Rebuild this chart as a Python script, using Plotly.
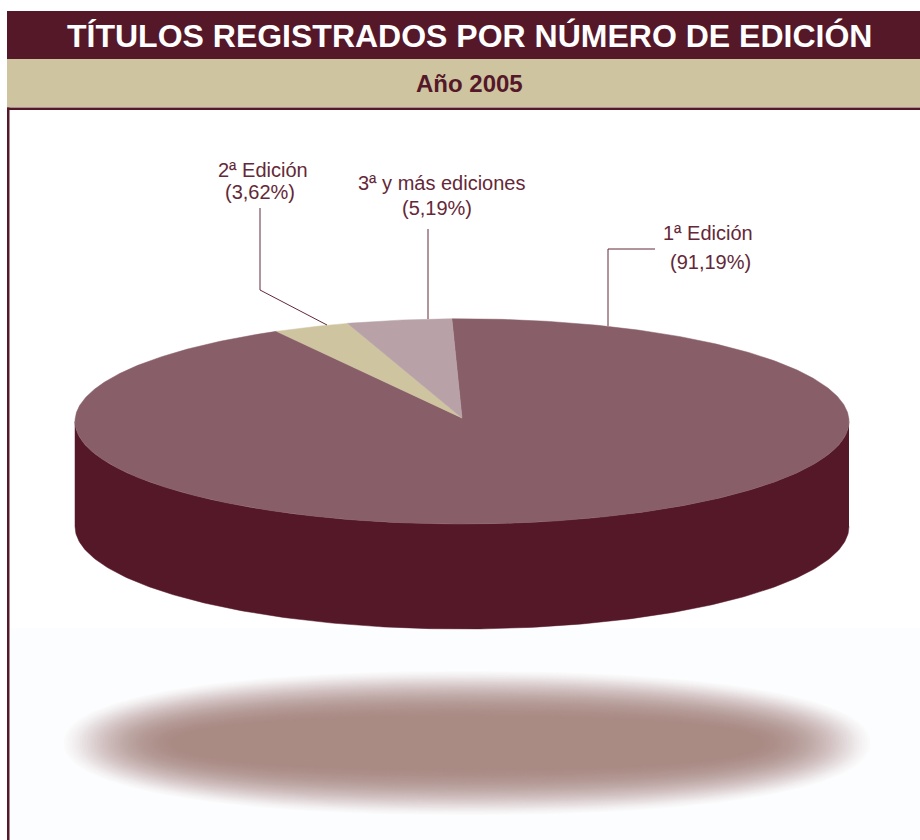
import numpy as np
import plotly.graph_objects as go

# ---- data ----
categories = ["1ª Edición", "2ª Edición", "3ª y más ediciones"]
shares = [91.19, 3.62, 5.19]
title_text = "TÍTULOS REGISTRADOS POR NÚMERO DE EDICIÓN"
subtitle_text = "Año 2005"

# ---- style ----
DARK = "#551829"
TAN = "#CEC4A0"
MAIN = "#885E69"
THIRD = "#B8A2A8"
TEXT = "#642838"
W, H = 920, 840
CX, CY, A, B = 462, 421.4, 387, 102.6
APEX_Y = 418
DEPTH = 105
START = -1.5       # degrees clockwise from the top
SQUEEZE = 0.84     # foreshortening of slices on the far side of the pie


def arc(t0, t1, n=240):
    t = np.radians(np.linspace(t0, t1, n))
    return CX + A * np.sin(t), CY - B * np.cos(t)


def slice_trace(t0, t1, color):
    x, y = arc(t0, t1, max(int(abs(t1 - t0) * 2), 12))
    return go.Scatter(
        x=np.r_[CX, x, CX], y=np.r_[APEX_Y, y, APEX_Y], mode="lines",
        fill="toself", fillcolor=color, line=dict(color=color, width=0.5),
        hoverinfo="skip", showlegend=False,
    )


fig = go.Figure()

# floating shadow: stacked translucent ellipses imitate a blur
N = 44
for i in range(N):
    f = i / (N - 1)
    a_s = 403 - 110 * f
    b_s = 72 - 46 * f
    alpha = 0.022 + 0.085 * f
    t = np.linspace(0, 2 * np.pi, 241)
    # slightly squarish outline gives the rounder tips of the blurred shape
    c, s = np.cos(t), np.sin(t)
    ex = 2 / 2.25
    fig.add_trace(go.Scatter(
        x=467 + a_s * np.sign(c) * np.abs(c) ** ex, y=743 + b_s * np.sign(s) * np.abs(s) ** ex,
        mode="lines", fill="toself", fillcolor=f"rgba(170,137,128,{alpha:.3f})",
        line=dict(width=0), hoverinfo="skip", showlegend=False,
    ))

# side wall of the pie
xs, ys = arc(90, 270)
fig.add_trace(go.Scatter(
    x=np.r_[xs, xs[::-1]], y=np.r_[ys, ys[::-1] + DEPTH], mode="lines",
    fill="toself", fillcolor=DARK, line=dict(color=DARK, width=0.5),
    hoverinfo="skip", showlegend=False,
))

# top face, slices derived from the shares
main, second, third = shares
t_third = START - third * 3.6 * SQUEEZE
t_second = t_third - second * 3.6 * (SQUEEZE + 0.04)
fig.add_trace(slice_trace(START, t_second + 360, MAIN))
fig.add_trace(slice_trace(t_second, t_third, TAN))
fig.add_trace(slice_trace(t_third, START, THIRD))

# leader lines
leaders = [
    ([608, 608, 655], [326, 249, 249]),
    ([260, 260, 327], [208, 290, 325]),
    ([428, 428], [229, 319]),
]
for lx, ly in leaders:
    fig.add_trace(go.Scatter(x=lx, y=ly, mode="lines", line=dict(color=TEXT, width=1),
                             hoverinfo="skip", showlegend=False))


def pct(v):
    return f"({v:.2f}%)".replace(".", ",")


label_pos = [((708, 233), (710, 262)), ((263, 170), (260, 192)), ((441, 183), (437, 208))]
annotations = []
for name, value, (p1, p2) in zip(categories, shares, label_pos):
    for text, (px, py) in ((name, p1), (pct(value), p2)):
        annotations.append(dict(x=px, y=py, xref="x", yref="y", text=text, showarrow=False,
                                xanchor="center", yanchor="middle",
                                font=dict(family="Liberation Sans", size=20, color=TEXT)))
annotations.append(dict(x=469.5, y=36, xref="x", yref="y", text=title_text, showarrow=False,
                        font=dict(family="Liberation Sans", size=32, color="white", weight="bold")))
annotations.append(dict(x=469, y=83, xref="x", yref="y", text=subtitle_text, showarrow=False,
                        font=dict(family="Liberation Sans", size=24, color=DARK, weight="bold")))

shapes = [
    dict(type="rect", x0=10, x1=W, y0=628, y1=H, fillcolor="#FCFDFE", line_width=0, layer="below"),
    dict(type="rect", x0=7, x1=W, y0=11, y1=59, fillcolor=DARK, line_width=0, layer="below"),
    dict(type="rect", x0=7, x1=W, y0=59, y1=107, fillcolor=TAN, line_width=0, layer="below"),
    dict(type="rect", x0=7, x1=W, y0=107.5, y1=110, fillcolor=DARK, line_width=0, layer="below"),
    dict(type="rect", x0=7, x1=9.5, y0=107.5, y1=H, fillcolor=DARK, line_width=0, layer="below"),
]

fig.update_layout(
    width=W, height=H, margin=dict(l=0, r=0, t=0, b=0),
    paper_bgcolor="white", plot_bgcolor="white",
    xaxis=dict(range=[0, W], visible=False, fixedrange=True),
    yaxis=dict(range=[H, 0], visible=False, fixedrange=True),
    shapes=shapes, annotations=annotations, showlegend=False, hovermode=False,
)

fig.write_html("out.html", config={"displayModeBar": False},
               post_script="document.body.style.margin='0';document.body.style.overflow='hidden';")
